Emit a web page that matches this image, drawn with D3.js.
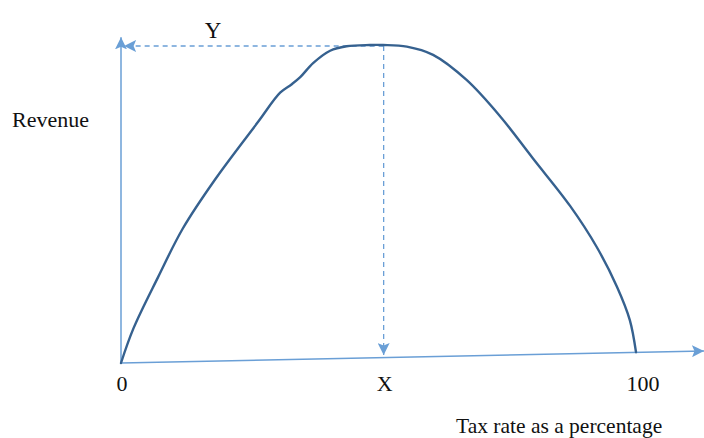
<!DOCTYPE html>
<html>
<head>
<meta charset="utf-8">
<script src="https://cdn.jsdelivr.net/npm/d3@7"></script>
<style>
  html, body { margin: 0; padding: 0; background: #fff; }
  text { font-family: "Liberation Serif", "DejaVu Serif", serif; fill: #111; }
</style>
</head>
<body>
<div id="chart"></div>
<script>
'use strict';

// Laffer curve (tax rate %, revenue as % of peak)
var taxRate = [0, 2.4, 7.2, 12.0, 18.3, 26.7, 30.9, 33.1, 34.8, 37.3, 40.6, 43.8, 48.3, 50.9,
    55.5, 60.6, 67.1, 73.6, 80.0, 87.2, 92.4, 96.3, 98.8, 100];
var revenue = [0, 10.8, 27.0, 42.3, 57.8, 76.0, 85.0, 87.6, 89.9, 94.3, 98.2, 99.6, 100, 100,
    99.5, 96.9, 89.0, 77.6, 64.3, 49.4, 36.4, 24.0, 13.5, 3.4];

var peak = { tax: 51, revenue: 100 };
var tickValues = [0, 51, 100];
var tickLabels = ["0", "X", "100"];

// axis ends (in data units); the horizontal axis rises slightly to the right
var xAxisEnd = { tax: 113.2, revenue: 3.8 };
var yAxisTop = 102.4;

var width = 704, height = 438;

var x = d3.scaleLinear().domain([0, 100]).range([121, 636]);
var y = d3.scaleLinear().domain([0, 100]).range([363, 45]);

var svg = d3.select("#chart").append("svg")
    .attr("width", width)
    .attr("height", height);

var axisColor = "#6a9fd6";

var defs = svg.append("defs");
defs.append("marker")
    .attr("id", "arrow")
    .attr("viewBox", "0 0 12 12")
    .attr("refX", 12)
    .attr("refY", 6)
    .attr("markerWidth", 12)
    .attr("markerHeight", 12)
    .attr("markerUnits", "userSpaceOnUse")
    .attr("orient", "auto")
    .append("path")
    .attr("d", "M0,0L12,6L0,12L2.5,6z")
    .attr("fill", axisColor);

// y axis
svg.append("line")
    .attr("x1", x(0)).attr("y1", y(0))
    .attr("x2", x(0)).attr("y2", y(yAxisTop))
    .attr("stroke", axisColor)
    .attr("stroke-width", 1.5)
    .attr("marker-end", "url(#arrow)");

// x axis
svg.append("line")
    .attr("x1", x(0)).attr("y1", y(0))
    .attr("x2", x(xAxisEnd.tax)).attr("y2", y(xAxisEnd.revenue))
    .attr("stroke", axisColor)
    .attr("stroke-width", 1.5)
    .attr("marker-end", "url(#arrow)");

// dashed guides from the peak
svg.append("line")
    .attr("x1", x(peak.tax)).attr("y1", y(peak.revenue) + 1)
    .attr("x2", x(0.6)).attr("y2", y(peak.revenue) + 1)
    .attr("stroke", axisColor)
    .attr("stroke-width", 1.3)
    .attr("stroke-dasharray", "5,4")
    .attr("marker-end", "url(#arrow)");

svg.append("line")
    .attr("x1", x(peak.tax)).attr("y1", y(peak.revenue) + 1)
    .attr("x2", x(peak.tax)).attr("y2", y(2.5))
    .attr("stroke", axisColor)
    .attr("stroke-width", 1.3)
    .attr("stroke-dasharray", "5,4")
    .attr("marker-end", "url(#arrow)");

// the curve
var points = taxRate.map(function (t, i) { return [t, revenue[i]]; });
var line = d3.line()
    .x(function (d) { return x(d[0]); })
    .y(function (d) { return y(d[1]); })
    .curve(d3.curveCatmullRom.alpha(0.5));

svg.append("path")
    .attr("d", line(points))
    .attr("fill", "none")
    .attr("stroke", "#36618f")
    .attr("stroke-width", 2.4)
    .attr("stroke-linecap", "round");

// tick labels
svg.selectAll(".tick-label")
    .data(tickValues)
    .enter().append("text")
    .attr("class", "tick-label")
    .attr("x", function (d) { return x(d) + (d === 100 ? 7 : 1); })
    .attr("y", 391)
    .attr("text-anchor", "middle")
    .attr("font-size", 22)
    .text(function (d, i) { return tickLabels[i]; });

svg.append("text")
    .attr("x", 213)
    .attr("y", 38)
    .attr("text-anchor", "middle")
    .attr("font-size", 23)
    .text("Y");

svg.append("text")
    .attr("x", 12)
    .attr("y", 127)
    .attr("font-size", 22)
    .text("Revenue");

svg.append("text")
    .attr("x", 456)
    .attr("y", 433)
    .attr("font-size", 21.5)
    .text("Tax rate as a percentage");
</script>
</body>
</html>
